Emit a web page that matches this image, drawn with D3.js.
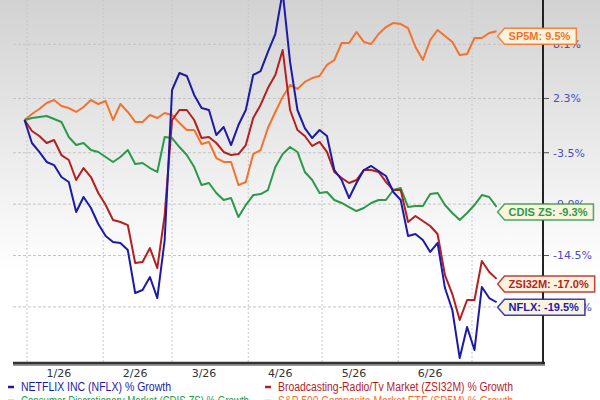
<!DOCTYPE html>
<html>
<head>
<meta charset="utf-8">
<script src="https://cdn.jsdelivr.net/npm/d3@7"></script>
<style>
  html, body { margin: 0; padding: 0; background: #fff; }
  svg { display: block; }
</style>
</head>
<body>
<div id="chart"></div>
<script>
// sampled every 3 calendar days starting 12/31/2025
const startDate = new Date(2025, 11, 31);
const stepDays = 3;

const nflx = [0, -2.46, -3.42, -4.49, -4.82, -6.1, -6.63, -9.84, -8.24, -9.42,
  -11.13, -12.41, -13.05, -13.16, -13.91, -18.51, -18.19, -16.8, -19.05, -12.84,
  3.21, 5.03, 4.71, 2.68, 1.28, 1.07, -1.61, -0.75, -2.68, -0.54,
  1.07, 4.82, 5.24, 7.28, 9.2, 13.7, 6.21, 1.07, -0.86, -1.93,
  -1.07, -1.71, -5.35, -6.42, -8.35, -6.74, -5.35, -4.92, -5.46, -5.99,
  -7.7, -8.56, -12.41, -12.2, -12.84, -14.12, -13.16, -17.98, -20.33, -25.47,
  -22.15, -24.61, -17.87, -19.05, -19.5];

const zsi32m = [0, -1.18, -1.71, -2.46, -2.14, -3.75, -4.28, -6.42, -5.14, -6.1,
  -7.81, -9.1, -10.7, -10.91, -11.24, -15.3, -15.19, -13.7, -15.84, -10.17,
  0, 1.07, 1.07, 0, -1.93, -1.82, -2.46, -3.42, -3.75, -3.64,
  -2.68, 0.21, 1.61, 3.42, 4.82, 7.49, 1.07, -1.07, -1.71, -2.78,
  -2.35, -3.42, -5.56, -6.21, -6.74, -6.42, -5.35, -5.35, -5.56, -6.63,
  -7.49, -7.49, -10.91, -10.27, -10.81, -11.34, -12.2, -16.59, -18.62, -21.4,
  -19.26, -19.26, -15.09, -16.26, -17.0];

const cdis = [0, 0.21, 0.32, 0.43, 0.11, -0.21, -1.82, -2.68, -2.46, -3.21,
  -3.42, -3.96, -4.49, -3.96, -3.21, -4.71, -4.6, -5.14, -5.56, -1.82,
  -1.93, -2.89, -3.75, -5.03, -6.96, -6.74, -7.81, -8.56, -8.35, -10.38,
  -9.1, -8.03, -7.92, -7.49, -5.03, -3.64, -2.89, -3.42, -5.56, -6.42,
  -7.81, -7.7, -8.56, -8.88, -9.31, -9.74, -9.42, -8.88, -8.56, -8.56,
  -7.49, -7.28, -9.31, -9.2, -9.2, -7.92, -7.81, -9.1, -9.95, -10.7,
  -9.95, -9.1, -8.03, -8.24, -9.3];

const sp5m = [0, 0.64, 1.18, 1.82, 2.14, 1.5, 1.28, 0.86, 1.39, 2.14,
  1.71, 2.03, 0, 1.71, 0.86, -0.21, -0.21, 0.54, 0.21, 0.75,
  0.54, -0.32, -1.07, -1.07, -2.57, -2.35, -4.07, -4.49, -4.49, -6.96,
  -6.63, -3.64, -3.21, -0.86, 0.86, 2.46, 3.75, 3.32, 4.07, 4.49,
  4.71, 5.89, 6.42, 8.24, 8.24, 9.42, 8.35, 8.13, 9.2, 9.95,
  10.38, 10.27, 9.84, 7.81, 6.42, 8.56, 9.63, 8.99, 8.35, 6.96,
  7.06, 8.77, 8.77, 9.31, 9.5];

const yTicks = [8.1, 2.3, -3.5, -9.0, -14.5, -20.0];
const xLabelMonths = [0, 1, 2, 3, 4, 5];

const seriesNames = ["SP5M", "CDIS ZS", "ZSI32M", "NFLX"];
const seriesColors = ["#f4722b", "#2a9a4a", "#b41f1f", "#1b1ba8"];
const seriesValues = [sp5m, cdis, zsi32m, nflx];
const legendTexts = [
  "NETFLIX INC (NFLX) % Growth",
  "Broadcasting-Radio/Tv Market (ZSI32M) % Growth",
  "Consumer Discretionary Market (CDIS ZS) % Growth",
  "S&P 500 Composite Market ETF (SP5M) % Growth"
];
const legendColors = ["#1b1ba8", "#b41f1f", "#2a9a4a", "#f4722b"];

const width = 600;
const height = 400;
const plotLeft = 13, plotRight = 543, plotTop = 0, plotBottom = 363;

const dates = nflx.map((d, i) => d3.timeDay.offset(startDate, i * stepDays));

const svg = d3.select("#chart").append("svg")
  .attr("width", width)
  .attr("height", height)
  .attr("viewBox", `0 0 ${width} ${height}`);

const defs = svg.append("defs");
const grad = defs.append("linearGradient")
  .attr("id", "bg").attr("x1", 0).attr("y1", 0).attr("x2", 0).attr("y2", 1);
grad.append("stop").attr("offset", "0%").attr("stop-color", "#d2d2d2");
grad.append("stop").attr("offset", "68%").attr("stop-color", "#ffffff");
grad.append("stop").attr("offset", "100%").attr("stop-color", "#ffffff");

defs.append("clipPath").attr("id", "plotClip")
  .append("rect")
  .attr("x", plotLeft).attr("y", plotTop)
  .attr("width", plotRight - plotLeft).attr("height", plotBottom - plotTop);

svg.append("rect").attr("width", width).attr("height", height).attr("fill", "url(#bg)");

const x = d3.scaleTime()
  .domain([new Date(2026, 0, 1), new Date(2026, 6, 1)])
  .range([27, 472]);

const y = d3.scaleLinear()
  .domain([12.84, -26.0])
  .range([plotTop, plotBottom]);

// grid
const grid = svg.append("g");
grid.selectAll("line.h")
  .data(yTicks)
  .join("line")
  .attr("class", "h")
  .attr("x1", plotLeft).attr("x2", plotRight)
  .attr("y1", (d) => y(d)).attr("y2", (d) => y(d))
  .attr("stroke", "#c4c4c4")
  .attr("stroke-dasharray", "3,2");

grid.selectAll("line.v")
  .data(d3.timeMonth.range(new Date(2026, 0, 1), new Date(2026, 6, 2)))
  .join("line")
  .attr("class", "v")
  .attr("x1", (d) => x(d)).attr("x2", (d) => x(d))
  .attr("y1", plotTop).attr("y2", plotBottom)
  .attr("stroke", "#c8c8c8")
  .attr("stroke-dasharray", "2,2");

// lines
const line = d3.line()
  .x((d, i) => x(dates[i]))
  .y((d) => y(d));

svg.append("g")
  .attr("clip-path", "url(#plotClip)")
  .selectAll("path")
  .data(seriesValues)
  .join("path")
  .attr("d", (d) => line(d))
  .attr("fill", "none")
  .attr("stroke", (d, i) => seriesColors[i])
  .attr("stroke-width", 2)
  .attr("stroke-linejoin", "round");

// axes
svg.append("line")
  .attr("x1", plotLeft).attr("x2", plotRight + 2)
  .attr("y1", plotBottom + 2).attr("y2", plotBottom + 2)
  .attr("stroke", "#9a9a9a").attr("stroke-width", 2);
svg.append("line")
  .attr("x1", plotLeft).attr("x2", plotRight + 2)
  .attr("y1", plotBottom).attr("y2", plotBottom)
  .attr("stroke", "#333").attr("stroke-width", 2.5);
svg.append("line")
  .attr("x1", plotRight).attr("x2", plotRight)
  .attr("y1", plotTop).attr("y2", plotBottom + 1)
  .attr("stroke", "#222").attr("stroke-width", 2);

const yAxis = svg.append("g");
yAxis.selectAll("line")
  .data(yTicks)
  .join("line")
  .attr("x1", plotRight + 1).attr("x2", plotRight + 6)
  .attr("y1", (d) => y(d)).attr("y2", (d) => y(d))
  .attr("stroke", "#555");
yAxis.selectAll("text")
  .data(yTicks)
  .join("text")
  .attr("x", plotRight + 10)
  .attr("y", (d) => y(d))
  .attr("dy", "0.36em")
  .attr("fill", "#4d4db8")
  .style("font-family", "DejaVu Sans, Verdana, sans-serif")
  .style("font-size", "11px")
  .text((d) => d.toFixed(1) + "%");

svg.append("g")
  .selectAll("text")
  .data(xLabelMonths)
  .join("text")
  .attr("x", (m) => x(new Date(2026, m, 14)))
  .attr("y", 377)
  .attr("text-anchor", "middle")
  .attr("fill", "#333")
  .style("font-family", "DejaVu Sans, Verdana, sans-serif")
  .style("font-size", "11px")
  .text((m) => d3.timeFormat("%-m/%y")(new Date(2026, m, 1)));

// end labels
const lastDate = dates[dates.length - 1];
const labels = svg.append("g");
seriesValues.forEach((vals, i) => {
  const v = vals[vals.length - 1];
  const tipX = x(lastDate) + 1;
  const cy = y(v) + 5;
  const g = labels.append("g");
  const path = g.append("path");
  const t = g.append("text")
    .attr("x", tipX + 11)
    .attr("y", cy)
    .attr("dy", "0.36em")
    .attr("fill", seriesColors[i])
    .style("font-family", "Liberation Sans, Arial, sans-serif")
    .style("font-size", "11px")
    .style("font-weight", "bold")
    .text(`${seriesNames[i]}: ${v.toFixed(1)}%`);
  const w = t.node().getComputedTextLength() + 17;
  const h = 16;
  path
    .attr("d", `M${tipX},${cy} L${tipX + 7},${cy - h / 2} L${tipX + w},${cy - h / 2} L${tipX + w},${cy + h / 2} L${tipX + 7},${cy + h / 2} Z`)
    .attr("fill", "#fbf3dc")
    .attr("stroke", seriesColors[i])
    .attr("stroke-width", 1.5)
    .attr("stroke-opacity", 0.85);
});

// legend
const legend = svg.append("g")
  .style("font-family", "Liberation Sans, Arial, sans-serif")
  .style("font-size", "12px");
const legendPos = [[8, 391], [265, 391], [8, 405], [265, 405]];
const legendWidths = [150, 235, 228, 235];
legendTexts.forEach((txt, i) => {
  const [lx, ly] = legendPos[i];
  legend.append("line")
    .attr("x1", lx).attr("x2", lx + 6)
    .attr("y1", ly - 4).attr("y2", ly - 4)
    .attr("stroke", legendColors[i]).attr("stroke-width", 2.5);
  legend.append("text")
    .attr("x", lx + 13).attr("y", ly)
    .attr("fill", legendColors[i])
    .attr("textLength", legendWidths[i])
    .attr("lengthAdjust", "spacingAndGlyphs")
    .text(txt);
});
</script>
</body>
</html>
